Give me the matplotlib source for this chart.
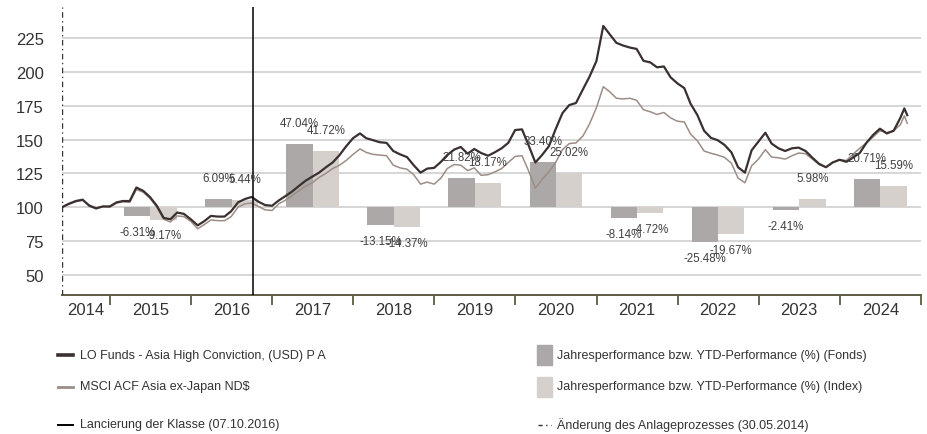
import matplotlib
matplotlib.use("Agg")
import matplotlib.pyplot as plt
from matplotlib.lines import Line2D
from matplotlib.patches import Rectangle
import matplotlib.dates as mdates
import numpy as np
import pandas as pd

# monthly values (rebased to 100 on 30.05.2014)
fund = [100, 102.5, 104.5, 105.5, 101, 99, 100.5, 100.5, 103.5, 104.5,
        104.5, 114.5, 112, 107.5, 101, 92, 91, 96, 95, 91,
        86.5, 89.5, 93.5, 93, 93, 97, 103.5, 106, 107.5, 104,
        101.5, 101, 105, 108, 111.5, 115.5, 119.5, 122.5, 125.5, 129.5,
        133, 138.5, 145, 151, 154.5, 151, 149.5, 148, 147.5, 141.5,
        139, 137, 131, 125.5, 128.5, 129, 133.5, 138.5, 142.5, 144.5,
        139.5, 143, 140, 138, 140.5, 143.5, 147.5, 157, 157.5, 146,
        133, 138.5, 145, 157.5, 169.5, 175.5, 177, 187, 196.5, 208,
        234, 228, 221.5, 219.5, 218, 217, 208.2, 207, 203.4, 204,
        196, 191.5, 188, 176.5, 168, 156.5, 151.2, 149.5, 146, 140.5,
        129.5, 125.5, 142, 148.5, 155, 147, 143.5, 141.5, 143.5, 144,
        141.5, 136.5, 132, 129.5, 133, 135, 133.5, 136.5, 140, 147.5,
        153.5, 158, 154.5, 156.5, 166, 173, 168]
index = [100, 102, 104, 105, 101.5, 99.5, 100.5, 100, 103, 104,
         103.5, 113, 111, 106.5, 100, 91, 89, 93.5, 93, 89.5,
         84, 87, 90.5, 90, 90, 93, 100, 102.5, 103, 100.5,
         98, 97.5, 102.5, 105, 108.5, 112, 115.5, 118, 122, 125,
         128.5, 131, 134.5, 139, 143, 140.5, 139, 138.5, 138, 131,
         129, 128, 124, 117, 118.5, 117, 121.5, 128.5, 131.5, 131,
         127, 129, 123.5, 124, 126, 128.5, 133, 137.5, 138, 127,
         114, 120.5, 126, 133, 142.5, 147, 147.5, 152.5, 161.5, 173.5,
         189, 185.5, 180.5, 180, 180.5, 179, 172, 170.5, 168.5, 170,
         166, 163.5, 163, 154, 149, 141.5, 139.8, 138.5, 136.8, 132.5,
         121.5, 118, 130.5, 135.5, 142.5, 137, 136.5, 135.5, 138, 140,
         139.5, 135.5, 131.5, 129.5, 133, 135, 134.5, 139, 143.5, 147.5,
         152, 156.5, 155, 156.5, 161, 167.5, 162]
dates = list(pd.date_range("2014-05-31", periods=125, freq="ME")) + \
        [pd.Timestamp("2024-10-18"), pd.Timestamp("2024-10-31")]

years = [2015, 2016, 2017, 2018, 2019, 2020, 2021, 2022, 2023, 2024]
perf_fund = [-6.31, 6.09, 47.04, -13.15, 21.82, 33.40, -8.14, -25.48, -2.41, 20.71]
perf_index = [-9.17, 5.44, 41.72, -14.37, 18.17, 25.02, -4.72, -19.67, 5.98, 15.59]

year_labels = ["2014", "2015", "2016", "2017", "2018", "2019", "2020", "2021", "2022", "2023", "2024"]

start = pd.Timestamp("2014-05-30")
launch = pd.Timestamp("2016-10-07")
end = pd.Timestamp("2025-01-01")

c_fund = "#3b3030"
c_index = "#9c8d86"
c_bar_f = "#aca8a7"
c_bar_i = "#d5d0cc"
c_axis = "#5b5c42"
c_text = "#333333"
font = "Liberation Sans"

fig = plt.figure(figsize=(9.28, 4.35), dpi=100)
ax = fig.add_axes([62 / 928, 1 - 296 / 435, (921 - 62) / 928, (296 - 8) / 435])

# bars: pair of bars centred on the middle of each year, starting at 100
bw = pd.Timedelta(days=119)
for y, pf, pi in zip(years, perf_fund, perf_index):
    mid = pd.Timestamp(f"{y}-07-02")
    ax.bar(mid - bw, pf, width=bw, bottom=100, align="edge", color=c_bar_f, zorder=2)
    ax.bar(mid, pi, width=bw, bottom=100, align="edge", color=c_bar_i, zorder=2)
    for xc, p in [(mid - bw / 2, pf), (mid + bw / 2, pi)]:
        off = 15 if p > 0 else -11.5
        ax.annotate(f"{p:.2f}%", (xc, 100 + p), xytext=(0, off), textcoords="offset points",
                    ha="center", va="center", fontsize=8.3, color="#404040",
                    family=font, zorder=5)

ax.plot(dates, index, color=c_index, lw=1.1, zorder=3)
ax.plot(dates, fund, color=c_fund, lw=1.6, zorder=4)

ax.axvline(launch, color="black", lw=1.1, zorder=4)
ax.axvline(start, color="#333333", lw=1, ls=(0, (4, 2.5, 1, 2.5)), zorder=4)

ax.set_xlim(start, end)
ax.set_ylim(35, 248)
ax.set_yticks([50, 75, 100, 125, 150, 175, 200, 225])
ax.grid(axis="y", color="#cfcfcf", lw=1.2, zorder=0)
ax.set_axisbelow(True)

for s in ["top", "right", "left"]:
    ax.spines[s].set_visible(False)
ax.spines["bottom"].set_color(c_axis)
ax.spines["bottom"].set_linewidth(1.4)

ax.xaxis.set_major_locator(mdates.YearLocator())
ax.xaxis.set_major_formatter(plt.NullFormatter())
label_pos = [pd.Timestamp("2014-09-15")] + [pd.Timestamp(f"{y}-07-02") for y in years]
ax.set_xticks(label_pos, minor=True)
ax.set_xticklabels(year_labels, minor=True)
ax.tick_params(axis="x", which="major", length=7, width=1.3, color=c_axis, direction="out")
ax.tick_params(axis="x", which="minor", length=0, pad=5, labelsize=12, labelcolor=c_text)
ax.tick_params(axis="y", length=0, pad=13, labelsize=12, labelcolor=c_text)
for lab in ax.get_xticklabels(minor=True) + ax.get_yticklabels():
    lab.set_family(font)

# legend, laid out by hand
def px(x, y):
    return x / 928, 1 - y / 435

leg_font = dict(fontsize=9, color=c_text, family=font, va="center")
rows = [356, 387.5, 425.5]
left_items = [("LO Funds - Asia High Conviction, (USD) P A", c_fund, 2.6),
              ("MSCI ACF Asia ex-Japan ND$", c_index, 2.0),
              ("Lancierung der Klasse (07.10.2016)", "black", 1.4)]
for (txt, col, lw), ry in zip(left_items, rows):
    x0, y0 = px(58, ry)
    x1, _ = px(73, ry)
    fig.add_artist(Line2D([x0, x1], [y0, y0], color=col, lw=lw, transform=fig.transFigure))
    fig.text(*px(80, ry), txt, **leg_font)

right_items = [("Jahresperformance bzw. YTD-Performance (%) (Fonds)", c_bar_f),
               ("Jahresperformance bzw. YTD-Performance (%) (Index)", c_bar_i)]
for (txt, col), ry in zip(right_items, rows[:2]):
    fx, fy = px(537, ry + 10)
    fig.add_artist(Rectangle((fx, fy), 15 / 928, 20 / 435, color=col, transform=fig.transFigure))
    fig.text(*px(557, ry), txt, **leg_font)

x0, y0 = px(538, rows[2])
x1, _ = px(551, rows[2])
fig.add_artist(Line2D([x0, x1], [y0, y0], color="#333333", lw=1, ls=(0, (3, 2.5, 1, 2.5)),
                      transform=fig.transFigure))
fig.text(*px(557, rows[2]), "Änderung des Anlageprozesses (30.05.2014)", **leg_font)

fig.savefig("out.png", dpi=100)
